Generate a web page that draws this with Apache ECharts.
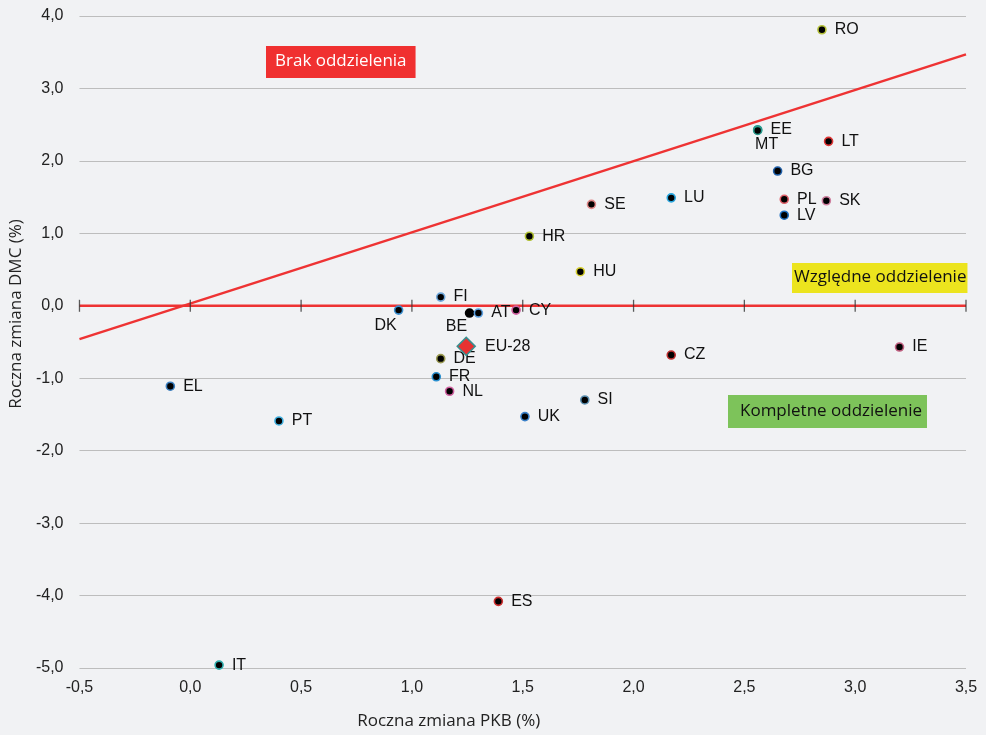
<!DOCTYPE html>
<html><head><meta charset="utf-8">
<script src="https://cdn.jsdelivr.net/npm/echarts@6/dist/echarts.min.js"></script>
<style>html,body{margin:0;padding:0;background:#f1f2f4}#c{width:986px;height:735px}</style>
</head><body><div id="c"></div>
<script>
const countries = ['RO','EE','MT','LT','BG','PL','SK','LV','SE','LU','HR','HU','FI','DK','BE','AT','CY','DE','FR','NL','EL','PT','UK','SI','CZ','IE','ES','IT'];
const gdpChange = [2.85,2.56,2.56,2.88,2.65,2.68,2.87,2.68,1.81,2.17,1.53,1.76,1.13,0.94,1.26,1.30,1.47,1.13,1.11,1.17,-0.09,0.40,1.51,1.78,2.17,3.20,1.39,0.13];
const dmcChange = [3.81,2.43,2.42,2.27,1.86,1.47,1.45,1.25,1.40,1.49,0.96,0.47,0.12,-0.06,-0.10,-0.10,-0.06,-0.73,-0.98,-1.18,-1.11,-1.59,-1.53,-1.30,-0.68,-0.57,-4.08,-4.96];
const euName = 'EU-28';
const euGdp = 1.245;
const euDmc = -0.56;
const diagStart = [-0.5, -0.46];
const diagEnd = [3.5, 3.47];
const zeroLine = [[-0.5, 0], [3.5, 0]];
const xTickValues = [-0.5, 0, 0.5, 1, 1.5, 2, 2.5, 3, 3.5];
const xTicks = {min:-0.5, max:3.5, step:0.5};
const yTicks = {min:-5, max:4, step:1};

const borderColors = {RO:'#b5c23a',EE:'#2a9d8f',MT:'#2a9d8f',LT:'#e03535',BG:'#1f5fa8',PL:'#e0606a',SK:'#d080a0',LV:'#1f6fc0',SE:'#e08888',LU:'#2aa8e0',HR:'#b0c030',HU:'#d8d030',FI:'#6fa8dc',DK:'#3a8fd0',BE:'#000000',AT:'#5a9fe0',CY:'#d060a0',DE:'#9a9a50',FR:'#2a90d0',NL:'#d060a0',EL:'#3a7fc0',PT:'#40b0e0',UK:'#3a80c8',SI:'#5a8fb0',CZ:'#c03030',IE:'#c06080',ES:'#d03030',IT:'#30b0b0'};
const labelOverride = {
  MT:{position:'bottom',distance:1,offset:[9,0]},
  DK:{position:'bottom',distance:3,offset:[-13,0]},
  BE:{position:'bottom',distance:1,offset:[-13,0]}
};
const fmt = v => v.toFixed(1).replace('.', ',');
const lblFont = {fontFamily:'Liberation Sans, Arial', fontSize:16, color:'#111'};
const titleFont = {fontFamily:'Open Sans',fontWeight:500,fontSize:17,color:'#222'};
const boxFont = '17px "Open Sans"';

const pts = countries.map((c,i)=>{
  const o = {name:c, value:[gdpChange[i], dmcChange[i]], itemStyle:{borderColor:borderColors[c]}};
  if (labelOverride[c]) o.label = labelOverride[c];
  return o;
});

const chart = echarts.init(document.getElementById('c'));
chart.setOption({
  backgroundColor:'#f1f2f4',
  animation:false,
  grid:{left:78,right:20,top:16,bottom:67},
  xAxis:{type:'value',min:xTicks.min,max:xTicks.max,interval:xTicks.step,position:'bottom',
     axisLine:{show:false,onZero:false},axisTick:{show:false},splitLine:{show:false},
     axisLabel:{formatter:fmt,margin:12,...lblFont,color:'#222'},
     name:'Roczna zmiana PKB (%)',nameLocation:'middle',nameGap:45,
     nameTextStyle:{...titleFont,padding:[0,148,0,0]}},
  yAxis:{type:'value',min:yTicks.min,max:yTicks.max,interval:yTicks.step,
    axisLine:{show:false},axisTick:{show:false},
    splitLine:{lineStyle:{color:'#bdbdbd',width:1.2}},
    axisLabel:{formatter:fmt,margin:16,...lblFont,color:'#222'},
    name:'Roczna zmiana DMC (%)',nameLocation:'middle',nameGap:51,
    nameTextStyle:{...titleFont,padding:[0,0,0,56]}},
  series:[
    {type:'line',data:zeroLine,symbol:'none',lineStyle:{color:'#ee3333',width:2.5},z:1,silent:true},
    {type:'scatter',data:xTickValues.map(v=>[v,0]),symbol:'rect',symbolSize:[1.3,12],
     itemStyle:{color:'#333'},z:2,silent:true},
    {type:'line',data:[diagStart,diagEnd],symbol:'none',
     lineStyle:{color:'#ee3333',width:2.5},z:1},
    {type:'scatter',data:pts,symbolSize:8,
     itemStyle:{color:'#000',borderWidth:1.6,opacity:1},
     label:{show:true,formatter:'{b}',position:'right',distance:8,...lblFont},z:3},
    {type:'scatter',data:[{name:euName,value:[euGdp,euDmc]}],symbol:'diamond',symbolSize:[18,18],
     itemStyle:{color:'#e83232',borderColor:'#3a8f8f',borderWidth:1.5,opacity:1},
     label:{show:true,formatter:'{b}',position:'right',distance:9,...lblFont},z:4}
  ],
  graphic:[
    {type:'text',left:266,top:46,style:{text:'Brak oddzielenia',fill:'#fff',backgroundColor:'#f03030',
      font:boxFont,padding:[7,9,8,9]}},
    {type:'text',left:792,top:263,style:{text:'Względne oddzielenie',fill:'#111',backgroundColor:'#ece41e',
      font:boxFont,padding:[6,1,7,2]}},
    {type:'text',left:728,top:395,style:{text:'Kompletne oddzielenie',fill:'#111',backgroundColor:'#7dc35a',
      font:boxFont,padding:[8,5,8,12]}}
  ]
});
</script></body></html>
